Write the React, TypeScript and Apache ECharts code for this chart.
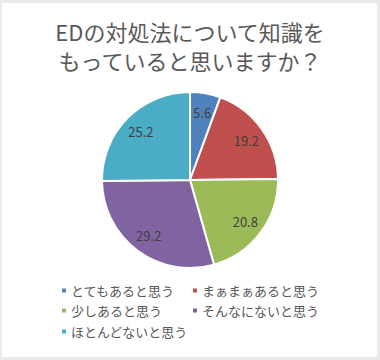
import React, { useEffect, useRef } from "react";
import * as echarts from "echarts";

const titleLines = ["EDの対処法について知識を", "もっていると思いますか？"];
const categories = ["とてもあると思う", "まぁまぁあると思う", "少しあると思う", "そんなにないと思う", "ほとんどないと思う"];
const values = [5.6, 19.2, 20.8, 29.2, 25.2];
const colors = ["#4F81BD", "#C0504D", "#9BBB59", "#8064A2", "#4BACC6"];

const FONT = "'Noto Sans CJK JP', 'Noto Sans', sans-serif";

export default function App() {
  const ref = useRef<HTMLDivElement>(null);
  useEffect(() => {
    if (!ref.current) return;
    const chart = echarts.init(ref.current, undefined, { renderer: "svg" });
    const legendPos = [
      { left: 60, top: 284 },
      { left: 191, top: 284 },
      { left: 60, top: 304 },
      { left: 191, top: 304 },
      { left: 60, top: 325 },
    ];
    const data = categories.map((name, i) => ({ name, value: values[i], itemStyle: { color: colors[i] } }));
    chart.setOption({
      animation: false,
      backgroundColor: "#ebebeb",
      graphic: [
        {
          type: "rect",
          shape: { x: 2, y: 3, width: 375, height: 354 },
          style: { fill: "#ffffff" },
          z: -10,
          silent: true,
        },
      ],
      title: {
        text: titleLines.join("\n"),
        left: "center",
        top: 11,
        textStyle: {
          fontFamily: FONT,
          fontSize: 22,
          fontWeight: "normal",
          color: "#595959",
          lineHeight: 29,
        },
      },
      legend: categories.map((name, i) => ({
        data: [name],
        left: legendPos[i].left,
        top: legendPos[i].top,
        icon: "rect",
        itemWidth: 6,
        itemHeight: 6,
        itemGap: 4,
        padding: 0,
        selectedMode: false,
        textStyle: { fontFamily: FONT, fontSize: 13, color: "#595959", padding: [0, 0, 0, -1] },
      })),
      series: [
        {
          type: "pie",
          center: [190, 180],
          radius: [0, 88],
          startAngle: 90,
          clockwise: true,
          data,
          label: { show: false },
          labelLine: { show: false },
          itemStyle: { borderColor: "#ffffff", borderWidth: 2 },
          silent: true,
        },
        {
          type: "pie",
          center: [190, 180],
          radius: [44, 88],
          startAngle: 90,
          clockwise: true,
          data: categories.map((name, i) => ({ name, value: values[i], itemStyle: { color: "rgba(0,0,0,0)" } })),
          label: {
            show: true,
            position: "inside",
            formatter: (p: any) => String(p.value),
            fontFamily: FONT,
            fontSize: 13,
            color: "#404040",
          },
          labelLine: { show: false },
          itemStyle: { borderWidth: 0 },
          silent: true,
        },
      ],
    });
    return () => chart.dispose();
  }, []);
  return <div ref={ref} style={{ position: "absolute", left: 0, top: 0, width: 380, height: 360 }} />;
}
